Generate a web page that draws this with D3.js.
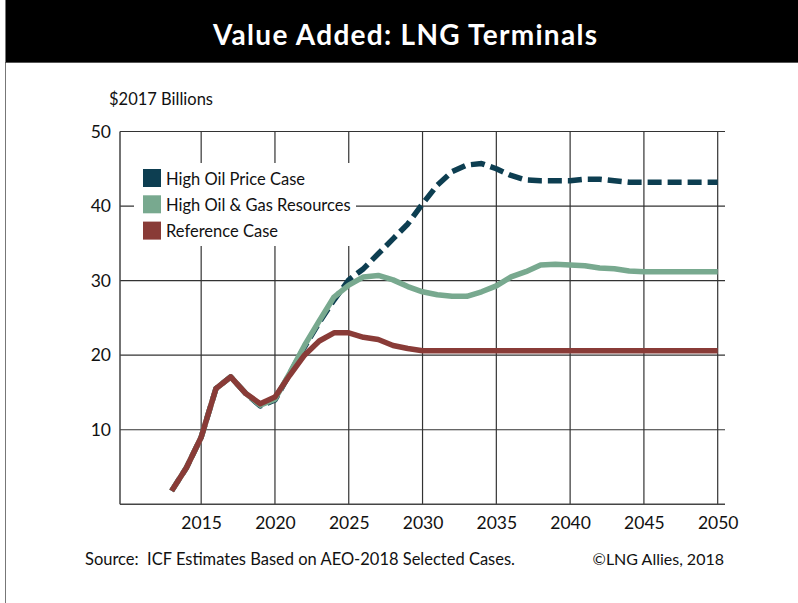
<!DOCTYPE html>
<html>
<head>
<meta charset="utf-8">
<script src="https://cdn.jsdelivr.net/npm/d3@7"></script>
<style>
  body { margin: 0; background: #fff; }
  svg { display: block; font-family: Lato, "Open Sans", sans-serif; }
</style>
</head>
<body>
<svg></svg>
<script>
// Chart size matches the reference picture
var canvasSize = {width: 798, height: 603}

// Data ($2017 billions)
var years = d3.range(2013, 2051)
var referenceCase = [1.8, 4.9, 9.0, 15.5, 17.1, 14.9, 13.5, 14.4, 17.3, 20.0, 21.9, 23.0,
    23.0, 22.4, 22.1, 21.3, 20.9, 20.6, 20.6, 20.6, 20.6, 20.6, 20.6, 20.6, 20.6, 20.6,
    20.6, 20.6, 20.6, 20.6, 20.6, 20.6, 20.6, 20.6, 20.6, 20.6, 20.6, 20.6]
var highOilGas = [1.8, 4.9, 9.0, 15.5, 17.1, 14.9, 13.3, 14.1, 17.6, 21.3, 24.6, 27.8,
    29.4, 30.5, 30.7, 30.1, 29.2, 28.5, 28.1, 27.9, 27.9, 28.5, 29.3, 30.5, 31.2, 32.1,
    32.2, 32.1, 32.0, 31.7, 31.6, 31.3, 31.2, 31.2, 31.2, 31.2, 31.2, 31.2]
var highOilPrice = [1.8, 4.9, 9.0, 15.5, 17.1, 14.9, 13.2, 14.0, 17.5, 21.1, 24.4, 27.4,
    30.1, 31.6, 33.6, 35.6, 37.6, 40.3, 42.8, 44.6, 45.5, 45.7, 45.0, 44.1, 43.5, 43.4,
    43.4, 43.4, 43.6, 43.6, 43.4, 43.2, 43.2, 43.2, 43.2, 43.2, 43.2, 43.2]

var xTicks = [2015, 2020, 2025, 2030, 2035, 2040, 2045, 2050]
var yTicks = [10, 20, 30, 40, 50]

var series = [
    {name: "High Oil Price Case", values: highOilPrice, color: "#0d3e51", dash: "14,6"},
    {name: "High Oil & Gas Resources", values: highOilGas, color: "#78a98f", dash: null},
    {name: "Reference Case", values: referenceCase, color: "#893b37", dash: null}
]

var svg = d3.select("svg")
    .attr("width", canvasSize.width)
    .attr("height", canvasSize.height)

// Title bar and the thin frame on the left
svg.append("rect")
    .attr("x", 5).attr("y", 0)
    .attr("width", canvasSize.width - 5).attr("height", 62)
    .attr("fill", "#000")
svg.append("line")
    .attr("x1", 5.5).attr("x2", 5.5).attr("y1", 0).attr("y2", canvasSize.height)
    .attr("stroke", "#777").attr("stroke-width", 1)
svg.append("line")
    .attr("x1", 5).attr("x2", canvasSize.width).attr("y1", 62.5).attr("y2", 62.5)
    .attr("stroke", "#555").attr("stroke-width", 1)
svg.append("text")
    .attr("x", 213).attr("y", 45)
    .attr("fill", "#fff")
    .attr("font-weight", "bold")
    .attr("font-size", 28)
    .attr("textLength", 384)
    .attr("lengthAdjust", "spacing")
    .text("Value Added: LNG Terminals")

// Scales
var x = d3.scaleLinear().domain([2009.5, 2050]).range([120, 717.7])
var y = d3.scaleLinear().domain([0, 50]).range([504.3, 131.5])
var plotRight = 725

// Grid lines
var grid = svg.append("g").attr("class", "grid")
grid.selectAll(".hgrid")
    .data(yTicks)
    .enter().append("line")
        .attr("x1", x.range()[0]).attr("x2", plotRight)
        .attr("y1", d => y(d)).attr("y2", d => y(d))
        .attr("stroke", "#333").attr("stroke-width", 1.2)
grid.selectAll(".vgrid")
    .data(xTicks)
    .enter().append("line")
        .attr("x1", d => x(d)).attr("x2", d => x(d))
        .attr("y1", y(50)).attr("y2", y(0))
        .attr("stroke", "#333").attr("stroke-width", 1.2)

// Axis lines
svg.append("line")
    .attr("x1", x.range()[0]).attr("x2", x.range()[0])
    .attr("y1", y(50)).attr("y2", y(0))
    .attr("stroke", "#444").attr("stroke-width", 1.5)
svg.append("line")
    .attr("x1", x.range()[0]).attr("x2", plotRight)
    .attr("y1", y(0)).attr("y2", y(0))
    .attr("stroke", "#444").attr("stroke-width", 1.5)

// Tick labels through d3 axes, with the domain and tick marks removed
var xAxis = d3.axisBottom(x).tickValues(xTicks).tickFormat(d3.format("d")).tickSize(0).tickPadding(12)
svg.append("g")
    .attr("transform", `translate(0,${y(0)})`)
    .call(xAxis)
    .call(g => g.select(".domain").remove())
    .selectAll("text")
        .attr("font-family", "Lato, sans-serif")
        .attr("font-size", 17.5)
        .attr("fill", "#111")

var yAxis = d3.axisLeft(y).tickValues(yTicks).tickSize(0).tickPadding(9)
svg.append("g")
    .attr("transform", `translate(${x.range()[0]},0)`)
    .call(yAxis)
    .call(g => g.select(".domain").remove())
    .selectAll("text")
        .attr("font-family", "Lato, sans-serif")
        .attr("font-size", 17.5)
        .attr("fill", "#111")

svg.append("text")
    .attr("x", 109).attr("y", 105)
    .attr("font-size", 16.5)
    .attr("fill", "#111")
    .text("$2017 Billions")

// Lines
var line = d3.line()
    .x((d, i) => x(years[i]))
    .y(d => y(d))

svg.append("g").selectAll("path")
    .data(series)
    .enter().append("path")
        .attr("d", d => line(d.values))
        .attr("fill", "none")
        .attr("stroke", d => d.color)
        .attr("stroke-width", 5.5)
        .attr("stroke-linejoin", "round")
        .attr("stroke-dasharray", d => d.dash)

// Legend with white backing that breaks the grid
var legend = svg.append("g").attr("transform", "translate(134,163)")
legend.append("rect")
    .attr("width", 222).attr("height", 83)
    .attr("fill", "#fff")
var items = legend.selectAll(".item")
    .data(series)
    .enter().append("g")
        .attr("transform", (d, i) => `translate(9,${6 + i * 26.3})`)
items.append("rect")
    .attr("width", 18).attr("height", 18)
    .attr("fill", d => d.color)
items.append("text")
    .attr("x", 23).attr("y", 15.5)
    .attr("font-size", 16.5)
    .attr("fill", "#111")
    .text(d => d.name)

// Footer
svg.append("text")
    .attr("x", 85).attr("y", 565)
    .attr("font-size", 16.5)
    .attr("fill", "#111")
    .attr("textLength", 430)
    .attr("lengthAdjust", "spacing")
    .style("white-space", "pre")
    .text("Source:  ICF Estimates Based on AEO-2018 Selected Cases.")
svg.append("text")
    .attr("x", 724).attr("y", 565)
    .attr("text-anchor", "end")
    .attr("font-size", 16)
    .attr("fill", "#111")
    .text("\u00A9LNG Allies, 2018")
</script>
</body>
</html>
